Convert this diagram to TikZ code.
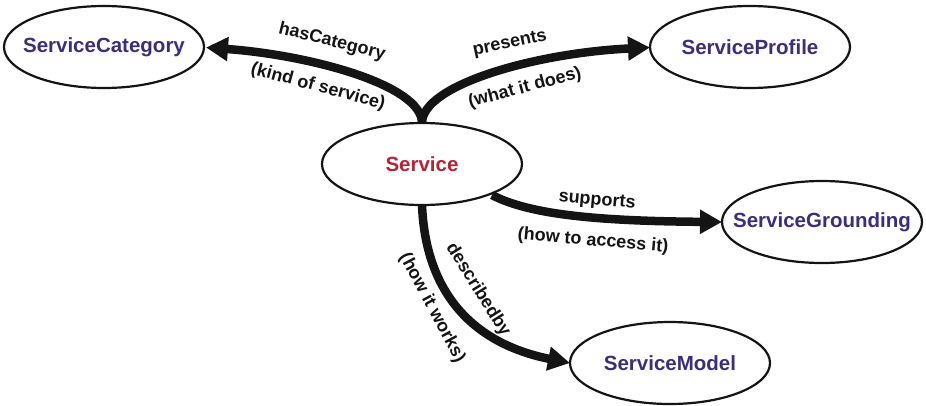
\documentclass[tikz,border=0pt]{standalone}
\usepackage{fontspec}
\setmainfont{Liberation Sans}
\usetikzlibrary{shapes.geometric,arrows.meta}
\definecolor{nodecol}{RGB}{62,46,118}
\definecolor{servcol}{RGB}{178,36,58}
\definecolor{linecol}{RGB}{20,20,20}
\tikzset{
  concept/.style={draw=linecol, line width=2.2pt, ellipse, fill=white,
    minimum width=200pt, minimum height=82pt, inner sep=0pt},
  ctext/.style={font=\fontsize{20.5}{24}\selectfont\bfseries, text=nodecol, inner sep=0pt},
  conn/.style={draw=linecol, line width=8.5pt,
    -{Triangle[length=22pt,width=23pt]}},
  lbl/.style={font=\fontsize{18}{21}\selectfont\bfseries, text=linecol, inner sep=0pt}
}
\begin{document}
\begin{tikzpicture}[x=1pt,y=-1pt]
\useasboundingbox (0,0) rectangle (926,405);
% connectors first
\coordinate (top) at (422,123);
\coordinate (bot) at (422,205);
\coordinate (sr) at (492,195);
\draw[conn] (top) .. controls (422,85) and (310,55) .. (206,47.5);
\draw[conn] (top) .. controls (422,85) and (535,53) .. (650,47.5);
\draw[conn] (sr) .. controls (530,215) and (600,221) .. (722,222);
\draw[conn] (bot) .. controls (426,300) and (480,345) .. (570,363);
% nodes
\node[concept, label={[ctext]center:ServiceCategory}] (cat) at (104,47) {};
\node[concept, label={[ctext]center:ServiceProfile}] (prof) at (750,47) {};
\node[concept, label={[ctext, text=servcol]center:Service}] (srv) at (422,164) {};
\node[concept, label={[ctext]center:ServiceGrounding}] (grd) at (822,222) {};
\node[concept, label={[ctext]center:ServiceModel}] (mdl) at (670,363) {};
% labels
\node[lbl, rotate=-14] (l1) at (332,42) {hasCategory};
\node[lbl, rotate=-15] (l2) at (318,87) {(kind of service)};
\node[lbl, rotate=12] (l3) at (510,44) {presents};
\node[lbl, rotate=15] (l4) at (525,88) {(what it does)};
\node[lbl, rotate=-5] (l5) at (597,201) {supports};
\node[lbl, rotate=-5] (l6) at (593,241) {(how to access it)};
\node[lbl, rotate=-58] (l7) at (478,290) {describedby};
\node[lbl, rotate=-62] (l8) at (432,308) {(how it works)};
\end{tikzpicture}
\end{document}
